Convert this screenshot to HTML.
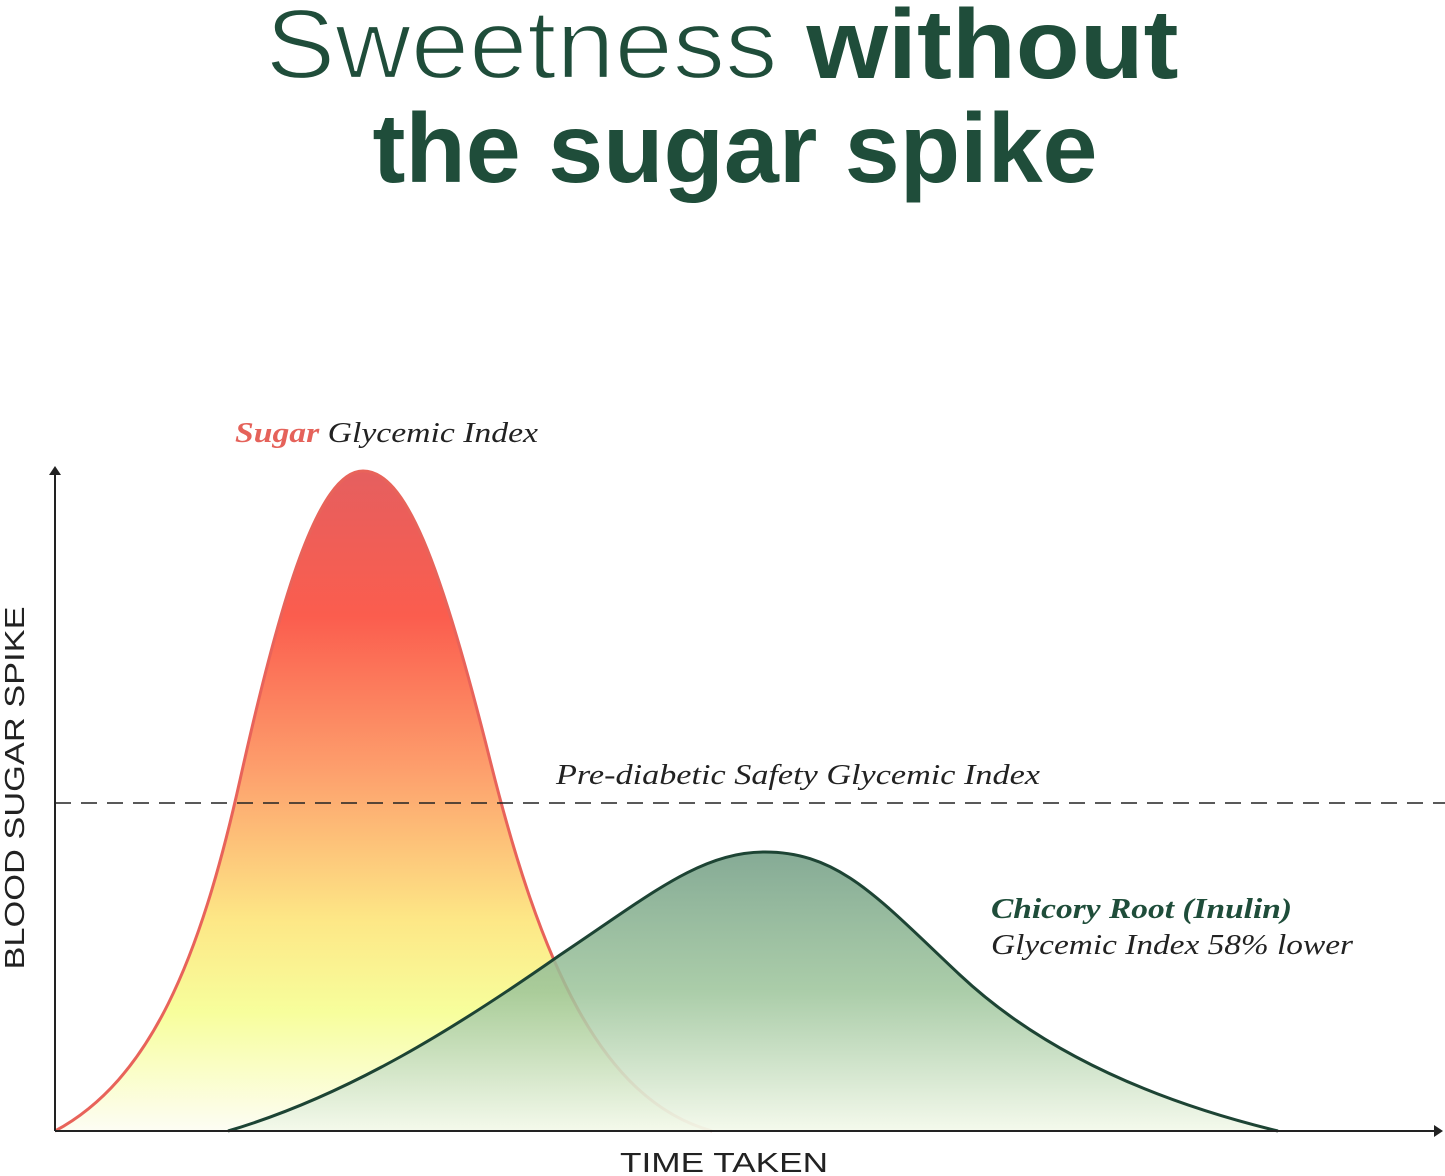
<!DOCTYPE html>
<html><head><meta charset="utf-8"><style>
html,body{margin:0;padding:0;background:#fff;}
svg{display:block;}
</style></head><body>
<svg width="1445" height="1176" viewBox="0 0 1445 1176" xmlns="http://www.w3.org/2000/svg">
<defs>
<linearGradient id="gs" x1="0" y1="471" x2="0" y2="1131" gradientUnits="userSpaceOnUse">
<stop offset="0" stop-color="#e55f5f"/>
<stop offset="0.22" stop-color="#fb5d4e"/>
<stop offset="0.45" stop-color="#fd9e6c"/>
<stop offset="0.68" stop-color="#fde786"/>
<stop offset="0.82" stop-color="#f7fe9c"/>
<stop offset="1" stop-color="#fdfdf4"/>
</linearGradient>
<linearGradient id="gg" x1="0" y1="852" x2="0" y2="1131" gradientUnits="userSpaceOnUse">
<stop offset="0" stop-color="#7fa690" stop-opacity="0.95"/>
<stop offset="0.5" stop-color="#9cc49a" stop-opacity="0.85"/>
<stop offset="1" stop-color="#f3f9ea" stop-opacity="0.9"/>
</linearGradient>
<linearGradient id="gl" x1="55" y1="0" x2="712" y2="0" gradientUnits="userSpaceOnUse">
<stop offset="0" stop-color="#e8635a"/>
<stop offset="0.8" stop-color="#e8635a"/>
<stop offset="1" stop-color="#eeb0a8"/>
</linearGradient>
</defs>
<text x="722" y="78" text-anchor="middle" font-family="Liberation Sans, sans-serif" font-size="98" fill="#1f4d3a" textLength="913" lengthAdjust="spacingAndGlyphs"><tspan stroke="#fff" stroke-width="2.2">Sweetness </tspan><tspan font-weight="bold">without</tspan></text>
<text x="735" y="182" text-anchor="middle" font-family="Liberation Sans, sans-serif" font-size="98" font-weight="bold" fill="#1f4d3a" textLength="725" lengthAdjust="spacingAndGlyphs">the sugar spike</text>

<path d="M55,1131 C150,1080 200,960 240,780 C280,600 318,471 363,471 C405,471 440,560 490,760 C540,960 600,1100 712,1131 Z" fill="url(#gs)"/>
<path d="M55,1131 C150,1080 200,960 240,780 C280,600 318,471 363,471 C405,471 440,560 490,760 C540,960 600,1100 712,1131" fill="none" stroke="url(#gl)" stroke-width="3"/>
<path d="M228,1131 C350,1095 460,1025 560,955 C650,895 700,852 765,852 C840,852 880,900 960,975 C1040,1050 1150,1100 1278,1131 Z" fill="url(#gg)"/>
<path d="M228,1131 C350,1095 460,1025 560,955 C650,895 700,852 765,852 C840,852 880,900 960,975 C1040,1050 1150,1100 1278,1131" fill="none" stroke="#1d4434" stroke-width="3"/>

<line x1="55" y1="803" x2="1445" y2="803" stroke="#222" stroke-width="1.6" stroke-dasharray="16,10"/>
<line x1="55" y1="1131" x2="1436" y2="1131" stroke="#222" stroke-width="2"/>
<line x1="55" y1="1131" x2="55" y2="474" stroke="#222" stroke-width="2"/>
<polygon points="55,466 49,475 61,475" fill="#222"/>
<polygon points="1443,1131 1434,1125 1434,1137" fill="#222"/>

<text x="235" y="442" font-family="Liberation Serif, serif" font-style="italic" font-size="29" fill="#222" textLength="303" lengthAdjust="spacingAndGlyphs"><tspan fill="#e5625a" font-weight="bold">Sugar</tspan> Glycemic Index</text>
<text x="556" y="784" font-family="Liberation Serif, serif" font-style="italic" font-size="29" fill="#222" textLength="484" lengthAdjust="spacingAndGlyphs">Pre-diabetic Safety Glycemic Index</text>
<text x="991" y="918" font-family="Liberation Serif, serif" font-style="italic" font-weight="bold" font-size="29" fill="#1f4d3a" textLength="301" lengthAdjust="spacingAndGlyphs">Chicory Root (Inulin)</text>
<text x="991" y="954" font-family="Liberation Serif, serif" font-style="italic" font-size="29" fill="#222" textLength="362" lengthAdjust="spacingAndGlyphs">Glycemic Index 58% lower</text>
<text x="724" y="1172" text-anchor="middle" font-family="Liberation Sans, sans-serif" font-size="28" fill="#222" textLength="208" lengthAdjust="spacingAndGlyphs">TIME TAKEN</text>
<text transform="translate(24,788) rotate(-90)" text-anchor="middle" font-family="Liberation Sans, sans-serif" font-size="28" fill="#222" textLength="363" lengthAdjust="spacingAndGlyphs">BLOOD SUGAR SPIKE</text>
</svg>
</body></html>
